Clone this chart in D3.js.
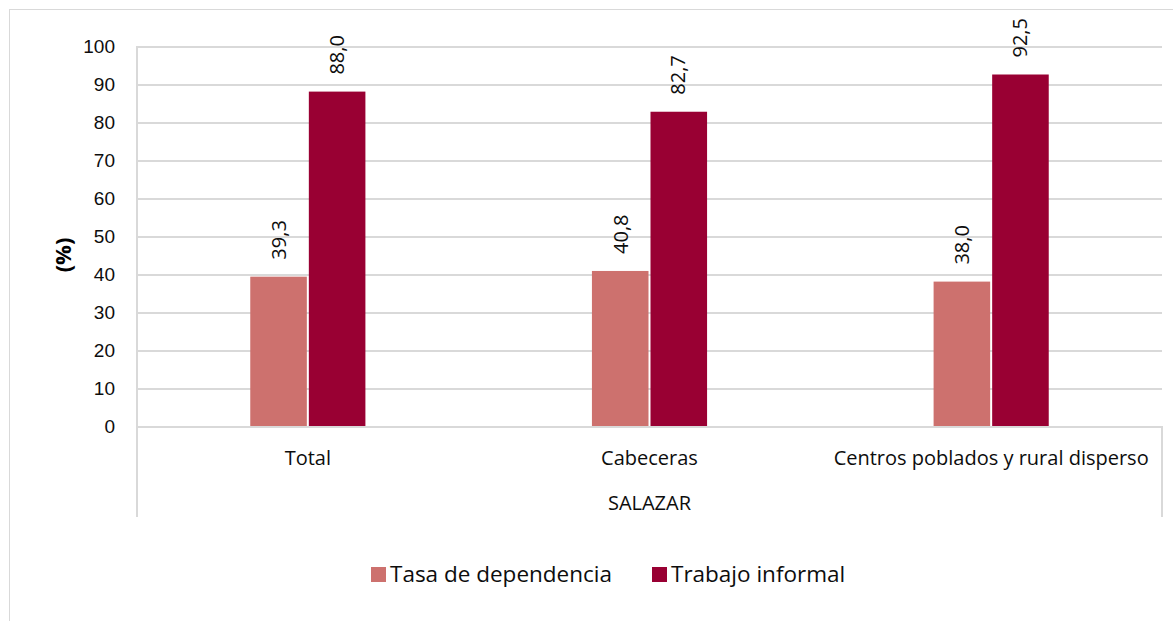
<!DOCTYPE html>
<html>
<head>
<meta charset="utf-8">
<script src="https://cdn.jsdelivr.net/npm/d3@7"></script>
<style>
  body { margin: 0; background: #fff; }
  svg { display: block; font-family: "Open Sans", "Noto Sans", sans-serif; }
</style>
</head>
<body>
<svg id="chart" width="1173" height="621"></svg>
<script>
// datos
const categories = ["Total", "Cabeceras", "Centros poblados y rural disperso"];
const series = ["Tasa de dependencia", "Trabajo informal"];
const tasaDependencia = [39.3, 40.8, 38.0];
const trabajoInformal = [88.0, 82.7, 92.5];
const yTicks = [0, 10, 20, 30, 40, 50, 60, 70, 80, 90, 100];
const groupLabel = "SALAZAR";
const colors = ["#CD716E", "#990033"];

const values = [tasaDependencia, trabajoInformal];

const svg = d3.select("#chart");
const margin = {top: 46, right: 11, bottom: 195, left: 137};
const width = +svg.attr("width");
const height = +svg.attr("height");
const textColor = "#0d0d0d";

// marco exterior
svg.append("rect")
  .attr("x", 9.5).attr("y", 9.5)
  .attr("width", width).attr("height", height)
  .attr("fill", "none").attr("stroke", "#d9d9d9");

// escalas
const x0 = d3.scaleBand()
  .domain(categories)
  .range([margin.left, width - margin.right]);

const groupW = x0.bandwidth() * 0.337;
const x1 = d3.scaleBand()
  .domain(series)
  .range([(x0.bandwidth() - groupW) / 2, (x0.bandwidth() + groupW) / 2]);

const y = d3.scaleLinear()
  .domain([0, 100])
  .range([height - margin.bottom, margin.top]);

// eje y con rejilla
const yAxis = svg.append("g")
  .attr("class", "y-axis")
  .attr("transform", `translate(${margin.left},0)`)
  .call(d3.axisLeft(y)
    .tickValues(yTicks)
    .tickSize(-(width - margin.left - margin.right))
    .tickPadding(22)
    .tickFormat(d3.format("d")));
yAxis.select(".domain").remove();
yAxis.selectAll("line")
  .attr("stroke", "#d9d9d9")
  .attr("stroke-width", 2)
  .attr("shape-rendering", "crispEdges");
yAxis.selectAll("text")
  .attr("font-size", 19)
  .attr("fill", textColor);

// linea vertical del eje y
svg.append("line")
  .attr("x1", margin.left).attr("x2", margin.left)
  .attr("y1", y(100)).attr("y2", 517)
  .attr("stroke", "#d9d9d9").attr("stroke-width", 2)
  .attr("shape-rendering", "crispEdges");
// linea derecha del eje de categorias
svg.append("line")
  .attr("x1", width - margin.right).attr("x2", width - margin.right)
  .attr("y1", y(0)).attr("y2", 517)
  .attr("stroke", "#d9d9d9").attr("stroke-width", 2)
  .attr("shape-rendering", "crispEdges");

// barras
const groups = svg.append("g").selectAll("g")
  .data(categories)
  .join("g")
  .attr("transform", d => `translate(${x0(d)},0)`);

groups.selectAll("rect")
  .data((d, i) => series.map((s, j) => ({s, j, v: values[j][i]})))
  .join("rect")
  .attr("x", d => x1(d.s) + (d.j === 0 ? 0 : 1))
  .attr("y", d => y(d.v))
  .attr("width", x1.bandwidth() - 1)
  .attr("height", d => y(0) - y(d.v))
  .attr("fill", d => colors[d.j]);

// etiquetas de datos
groups.selectAll("text")
  .data((d, i) => series.map((s, j) => ({s, j, v: values[j][i]})))
  .join("text")
  .attr("transform", d =>
    `translate(${x1(d.s) + x1.bandwidth() / 2 + 7},${y(d.v) - 17}) rotate(-90)`)
  .attr("font-size", 20)
  .attr("fill", textColor)
  .text(d => d3.format(".1f")(d.v).replace(".", ","));

// etiquetas de categorias
svg.append("g").selectAll("text")
  .data(categories)
  .join("text")
  .attr("x", d => x0(d) + x0.bandwidth() / 2)
  .attr("y", 465)
  .attr("text-anchor", "middle")
  .attr("font-size", 20)
  .attr("fill", textColor)
  .text(d => d);

svg.append("text")
  .attr("x", (margin.left + width - margin.right) / 2)
  .attr("y", 510)
  .attr("text-anchor", "middle")
  .attr("font-size", 20)
  .attr("fill", textColor)
  .text(groupLabel);

// titulo eje y
svg.append("text")
  .attr("transform", `translate(71,255) rotate(-90)`)
  .attr("text-anchor", "middle")
  .attr("font-size", 22)
  .attr("font-weight", "bold")
  .attr("fill", "#000")
  .text("(%)");

// leyenda
const legendX = [371, 652];
const legend = svg.append("g").selectAll("g")
  .data(series)
  .join("g")
  .attr("transform", (d, i) => `translate(${legendX[i]},567)`);
legend.append("rect")
  .attr("width", 15).attr("height", 15)
  .attr("fill", (d, i) => colors[i]);
legend.append("text")
  .attr("x", 19).attr("y", 15)
  .attr("font-size", 22.5)
  .attr("fill", textColor)
  .text(d => d);
</script>
</body>
</html>
